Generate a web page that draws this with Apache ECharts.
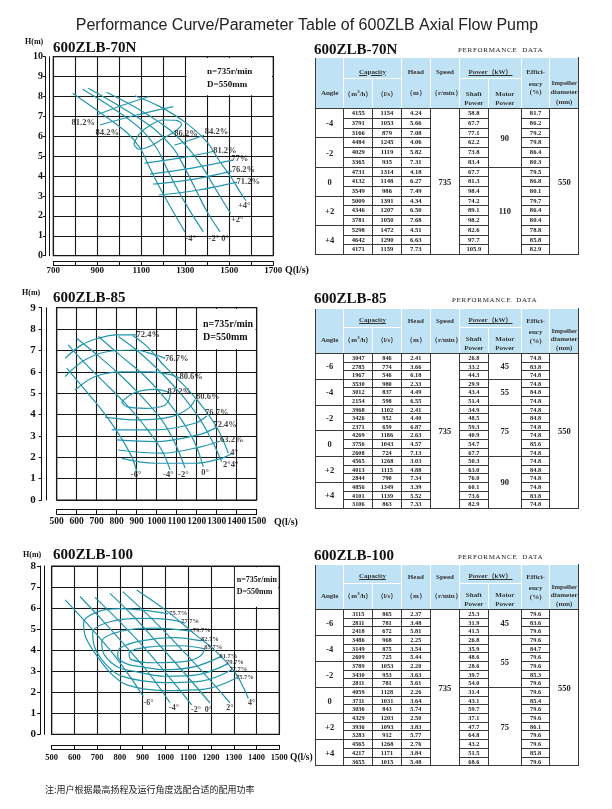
<!DOCTYPE html>
<html><head><meta charset="utf-8"><title>600ZLB Axial Flow Pump</title>
<script src="https://cdn.jsdelivr.net/npm/echarts@6.0.0/dist/echarts.min.js"></script>
<style>
html,body{margin:0;padding:0;background:#fff;}
#page{position:relative;width:612px;height:809px;overflow:hidden;}
#chart{position:absolute;left:0;top:0;width:612px;height:809px;}
.ttl{position:absolute;font-family:"Liberation Serif","Times New Roman",serif;font-weight:bold;color:#111;white-space:nowrap;font-size:15px;line-height:16px;}
.pd{position:absolute;font-family:"Liberation Serif","Times New Roman",serif;font-size:7px;line-height:8px;color:#222;letter-spacing:0.7px;white-space:nowrap;}
table.pt{position:absolute;border-collapse:collapse;table-layout:fixed;font-family:"Liberation Serif","Times New Roman",serif;font-weight:bold;color:#222;z-index:2;}
table.pt th{background:#bfe3f4;border:1px solid #fff;padding:0;font-size:7px;line-height:8.5px;font-weight:bold;color:#333;text-align:center;overflow:hidden;white-space:nowrap;}
table.pt tr.h1 th{vertical-align:bottom;padding-bottom:2px;}
table.pt th.nb{border-bottom-style:hidden;}
table.pt th.fl{border-left-color:#3a3a3a;}
table.pt th.lr{border-right-color:#3a3a3a;}
table.pt tr.h2 th{border-bottom-color:#3a3a3a;}
table.pt th.vt{vertical-align:top;padding-top:1px;}
table.pt th.vb{vertical-align:bottom;padding-bottom:1px;}
table.pt td{border:1px solid #3a3a3a;padding:0;text-align:center;white-space:nowrap;overflow:hidden;}
table.pt td.big{font-size:8.5px;}
#foot{position:absolute;left:45px;top:784px;font-family:"Noto Sans CJK SC",sans-serif;font-size:9px;line-height:12px;color:#222;white-space:nowrap;}
</style>
</head>
<body>
<div id="page">
  <div id="chart"></div>
  <div class="ttl" style="left:314px;top:41px;">600ZLB-70N</div>
  <div class="pd" style="left:458px;top:46px;">PERFORMANCE&nbsp; DATA</div>
  <table class="pt" id="t1"></table>
  <div class="ttl" style="left:314px;top:290px;">600ZLB-85</div>
  <div class="pd" style="left:452px;top:296px;">PERFORMANCE&nbsp; DATA</div>
  <table class="pt" id="t2"></table>
  <div class="ttl" style="left:314px;top:547px;">600ZLB-100</div>
  <div class="pd" style="left:458px;top:553px;">PERFORMANCE&nbsp; DATA</div>
  <table class="pt" id="t3"></table>
  <div id="foot">注:用户根据最高扬程及运行角度选配合适的配用功率</div>
</div>
<script>
// ================= DATA =================
// ---- Chart 1 : 600ZLB-70N  (Q l/s, H m) ----
const c1_xTicks = [700, 900, 1100, 1300, 1500, 1700];
const c1_m4 = [[788,8.16],[912,7.2],[1033,6.2],[1095,5.4],[1135,4.5],[1175,3.6],[1230,2.5],[1298,1.2]];
const c1_m2 = [[833,8.36],[973,7.4],[1094,6.4],[1170,5.4],[1215,4.4],[1261,3.4],[1321,2.25],[1382,1.2]];
const c1_0  = [[859,8.41],[1018,7.4],[1155,6.4],[1245,5.4],[1298,4.4],[1344,3.4],[1397,2.25],[1458,1.2]];
const c1_p2 = [[942,8.21],[1094,7.32],[1230,6.32],[1321,5.31],[1382,4.39],[1427,3.55],[1473,2.71],[1506,2.13]];
const c1_p4 = [[1071,8.04],[1185,7.49],[1306,6.65],[1397,5.73],[1458,4.72],[1511,3.89],[1548,3.22],[1576,2.76]];
const c1_e812L = [[897,7.07],[1018,7.57],[1132,7.99]];
const c1_e842L = [[912,6.57],[1079,7.07],[1245,7.49]];
const c1_e862  = [[1066,5.6],[1090,6.1],[1140,6.55],[1200,6.82],[1260,6.8],[1283,6.6],[1260,6.3],[1200,5.9],[1140,5.5],[1090,5.35],[1066,5.6]];
const c1_e842R = [[1250,5.55],[1320,5.8],[1385,6.05]];
const c1_e812R = [[1115,4.65],[1300,4.95],[1430,5.25]];
const c1_e77   = [[1140,4.1],[1330,4.4],[1515,4.8]];
const c1_e762  = [[1155,3.6],[1340,3.85],[1512,4.25]];
const c1_e712  = [[1180,3.05],[1360,3.3],[1535,3.7]];
const c1_effLabels = [[836,6.70,'81.2%'],[945,6.2,'84.2%'],[1303,6.15,'86.2%'],[1442,6.23,'84.2%'],[1480,5.26,'81.2%'],[1548,4.89,'77%'],[1564,4.30,'76.2%'],[1586,3.72,'71.2%']];
const c1_angLabels = [[1568,2.51,'+4°'],[1536,1.79,'+2°'],[1324,0.84,'-4°'],[1452,0.84,'-2° 0°']];

// ---- Chart 2 : 600ZLB-85 ----
const c2_xTicks = [500,600,700,800,900,1000,1100,1200,1300,1400,1500];
const c2_m6 = [[550,6.17],[642,5.15],[725,4.22],[808,3.12],[875,2.03],[900,1.33]];
const c2_m4 = [[558,7.26],[625,6.56],[725,5.62],[842,4.53],[942,3.44],[1025,2.34],[1067,1.41]];
const c2_m2 = [[600,7.57],[692,6.87],[808,5.93],[925,4.84],[1025,3.75],[1092,2.65],[1142,1.49]];
const c2_0  = [[708,7.65],[825,6.71],[942,5.78],[1042,4.76],[1125,3.74],[1192,2.65],[1233,1.56]];
const c2_p2 = [[808,7.65],[908,6.95],[1025,5.93],[1125,4.92],[1208,3.9],[1275,2.81],[1325,1.8]];
const c2_p4 = [[880,7.7],[950,7.2],[1042,6.24],[1158,5.15],[1242,4.21],[1308,3.28],[1358,2.19]];
const c2_e724U = [[542,6.63],[625,7.26],[708,7.57],[800,7.73],[900,7.73]];
const c2_e767U = [[542,5.78],[642,6.56],[758,6.95],[892,7.02],[992,6.79],[1042,6.63]];
const c2_e806U = [[592,5.15],[692,5.78],[825,6.0],[975,6.0],[1075,5.85],[1117,5.7]];
const c2_e822  = [[825,4.6],[892,5.03],[992,5.18],[1067,4.92],[1042,4.45],[942,4.29],[850,4.37],[825,4.6]];
const c2_e806L = [[742,3.87],[908,3.75],[1075,3.9],[1160,4.3],[1192,4.7]];
const c2_e767L = [[775,3.28],[992,3.28],[1192,3.59],[1250,3.93]];
const c2_e724L = [[800,2.81],[992,2.73],[1208,3.05],[1300,3.4]];
const c2_e632  = [[808,2.34],[1025,2.19],[1225,2.5],[1317,2.75]];
const c2_ebot  = [[825,1.95],[992,1.72],[1192,1.72],[1325,1.95],[1375,2.16]];
const c2_effLabels = [[958,7.73,'72.4%'],[1100,6.63,'76.7%'],[1172,5.78,'80.6%'],[1113,5.07,'82.2%'],[1255,4.84,'80.6%'],[1300,4.06,'76.7%'],[1342,3.51,'72.4%'],[1375,2.81,'63.2%']];
const c2_angLabels = [[1387,2.19,'4°'],[1370,1.64,'2°4°'],[1242,1.25,'0°'],[1133,1.17,'-2°'],[1058,1.17,'-4°'],[897,1.17,'-6°']];

// ---- Chart 3 : 600ZLB-100 ----
const c3_xTicks = [500,600,700,800,900,1000,1100,1200,1300,1400,1500];
const c3_m6 = [[559,6.39],[654,5.28],[756,4.01],[844,2.74],[903,1.79]];
const c3_m4 = [[624,6.55],[720,5.45],[820,4.25],[920,3.0],[1020,1.5]];
const c3_m2 = [[690,6.51],[790,5.45],[900,4.2],[1010,2.8],[1115,1.4]];
const c3_0  = [[756,6.7],[860,5.6],[960,4.4],[1080,2.95],[1195,1.5]];
const c3_p2 = [[812,6.78],[920,5.7],[1030,4.5],[1160,3.0],[1283,1.5]];
const c3_p4 = [[873,6.86],[1011,5.82],[1130,4.75],[1218,3.98],[1307,2.92],[1364,1.7]];
const c3_e757 = [[1012,5.72],[908,5.89],[804,5.97],[701,5.82],[640,5.3],[650,4.6],[700,3.7],[760,2.9],[830,2.35],[996,2.08],[1174,2.15],[1314,2.69]];
const c3_e777 = [[1085,5.28],[1026,5.44],[893,5.51],[760,5.36],[680,4.85],[690,4.1],[740,3.3],[810,2.75],[996,2.46],[1159,2.53],[1292,3.07]];
const c3_e797 = [[1115,4.9],[952,5.05],[804,4.9],[720,4.4],[730,3.8],[790,3.2],[860,3.0],[996,2.76],[1145,2.84],[1277,3.37]];
const c3_e827 = [[1159,4.44],[1041,4.6],[893,4.44],[800,4.1],[790,3.7],[830,3.35],[900,3.2],[996,3.07],[1130,3.22],[1240,3.68]];
const c3_e857 = [[1174,4.06],[1070,4.21],[922,4.14],[840,3.85],[850,3.55],[950,3.4],[1080,3.45],[1150,3.7],[1174,4.06]];
const c3_effLabels = [[1056,5.75,'75.7%'],[1108,5.36,'77.7%'],[1159,4.96,'79.7%'],[1195,4.52,'82.7%'],[1210,4.14,'85.7%'],[1276,3.69,'81.7%'],[1305,3.41,'79.7%'],[1320,3.09,'77.7%'],[1349,2.71,'75.7%']];
const c3_angLabels = [[925,1.47,'-6°'],[1037,1.24,'-4°'],[1134,1.16,'-2°'],[1188,1.16,'0°'],[1283,1.24,'2°'],[1378,1.47,'4°']];

// ---- Tables ----
const t1_angles = ['-4','-2','0','+2','+4'];
const t1_m3h   = ['4155','3791','3166','4484','4029','3365','4731','4132','3549','5009','4346','3781','5298','4642','4171'];
const t1_ls    = ['1154','1053','879','1245','1119','935','1314','1148','986','1391','1207','1050','1472','1290','1159'];
const t1_head  = ['4.24','5.66','7.08','4.06','5.82','7.31','4.18','6.27','7.49','4.34','6.50','7.68','4.51','6.63','7.73'];
const t1_shaft = ['58.8','67.7','77.1','62.2','73.8','83.4','67.7','81.3','98.4','74.2','89.1','98.2','82.6','97.7','105.9'];
const t1_eff   = ['81.7','86.2','79.2','79.8','86.4','80.3','79.5','86.8','80.1','79.7','86.4','80.4','78.8','85.8','82.9'];
const t1_motor = ['90','110'];
const t1_motorRows = [6, 9];

const t2_angles = ['-6','-4','-2','0','+2','+4'];
const t2_m3h   = ['3047','2785','1967','3530','3012','2154','3968','3426','2371','4269','3756','2608','4565','4013','2844','4856','4101','3106'];
const t2_ls    = ['846','774','546','980','837','598','1102','952','659','1186','1043','724','1268','1115','790','1349','1139','863'];
const t2_head  = ['2.41','3.66','6.18','2.33','4.49','6.55','2.41','4.40','6.87','2.63','4.57','7.13','3.03','4.88','7.34','3.39','5.52','7.33'];
const t2_shaft = ['26.8','33.2','44.3','29.9','43.4','51.4','34.9','48.5','59.3','40.9','54.7','67.7','50.3','63.0','76.0','60.1','73.6','82.9'];
const t2_eff   = ['74.8','83.8','74.8','74.8','84.8','74.8','74.8','84.8','74.8','74.8','85.6','74.8','74.8','84.8','74.8','74.8','83.8','74.8'];
const t2_motor = ['45','55','75','90'];
const t2_motorRows = [3, 3, 6, 6];

const t3_angles = ['-6','-4','-2','0','+2','+4'];
const t3_m3h   = ['3115','2811','2418','3486','3149','2609','3789','3430','2811','4059','3711','3036','4329','3936','3283','4565','4217','3655'];
const t3_ls    = ['865','781','672','968','875','725','1053','953','781','1128','1031','843','1203','1093','912','1268','1171','1015'];
const t3_head  = ['2.37','3.48','5.81','2.25','3.54','5.44','2.20','3.63','5.61','2.26','3.64','5.74','2.50','3.83','5.77','2.76','3.84','5.48'];
const t3_shaft = ['25.3','31.9','41.5','26.8','35.9','48.6','28.6','39.7','54.0','31.4','43.1','59.7','37.1','47.7','64.8','43.2','51.5','68.6'];
const t3_eff   = ['79.6','83.6','79.6','79.6','84.7','79.6','79.6','85.3','79.6','79.6','85.4','79.6','79.6','86.1','79.6','79.6','85.8','79.6'];
const t3_motor = ['45','55','75'];
const t3_motorRows = [3, 6, 9];

const speed = '735';
const impeller = '550';

// ================= CHART =================
const SERIF = '"Liberation Serif","Times New Roman",serif';
const CURVE = '#2196ae';
const GRIDC = '#161616';

function axesFor(g, c){
  const xs = [], ys = [];
  xs.push({gridIndex:g, type:'value', min:c.xMin, max:c.xMax, interval:100,
    axisLine:{show:false}, axisTick:{show:false}, axisLabel:{show:false},
    splitLine:{show:true, lineStyle:{color:GRIDC, width:1.1}}});
  xs.push({gridIndex:g, type:'value', min:c.xMin, max:c.xMax, interval:100, position:'bottom', offset:c.xo[0],
    axisLine:{show:true, onZero:false, lineStyle:{color:'#111', width:1}},
    axisTick:{show:true, inside:false, length:c.xo[1]-c.xo[0], lineStyle:{color:'#111', width:1}},
    axisLabel:{show:false}, splitLine:{show:false}});
  xs.push({gridIndex:g, type:'value', min:c.xMin, max:c.xMax, interval:100, position:'bottom', offset:c.xo[1],
    axisLine:{show:true, onZero:false, lineStyle:{color:'#111', width:1}},
    axisTick:{show:false},
    axisLabel:{show:true, margin:c.xMargin, hideOverlap:false, color:'#111', fontFamily:SERIF, fontWeight:'bold', fontSize:c.xFs,
      formatter:(v)=> c.xTicks.indexOf(Math.round(v))>=0 ? String(Math.round(v)) : ''},
    splitLine:{show:false}});
  ys.push({gridIndex:g, type:'value', min:0, max:c.yMax, interval:1,
    axisLine:{show:false}, axisTick:{show:false}, axisLabel:{show:false},
    splitLine:{show:true, lineStyle:{color:GRIDC, width:1.2}}});
  ys.push({gridIndex:g, type:'value', min:0, max:c.yMax, interval:1, position:'left', offset:c.yo[0],
    axisLine:{show:true, onZero:false, lineStyle:{color:'#111', width:1}},
    axisTick:{show:false}, axisLabel:{show:false}, splitLine:{show:false}});
  ys.push({gridIndex:g, type:'value', min:0, max:c.yMax, interval:1, position:'left', offset:c.yo[1],
    axisLine:{show:true, onZero:false, lineStyle:{color:'#111', width:1}},
    axisTick:{show:true, inside:false, length:c.yTick, lineStyle:{color:'#111', width:1}},
    axisLabel:{show:true, margin:c.yMargin, hideOverlap:false, color:'#111', fontFamily:SERIF, fontWeight:'bold', fontSize:c.yFs},
    splitLine:{show:false}});
  return {xs, ys};
}

function curve(g, data){
  return {type:'line', xAxisIndex:3*g, yAxisIndex:3*g, data:data, showSymbol:false, smooth:0.35,
    silent:true, z:3, lineStyle:{color:CURVE, width:1.2}};
}
function labels(g, arr, fs){
  return {type:'scatter', xAxisIndex:3*g, yAxisIndex:3*g, symbolSize:1, silent:true, z:6,
    itemStyle:{color:'rgba(0,0,0,0)'},
    data: arr.map(d=>({value:[d[0],d[1]], name:d[2]})),
    label:{show:true, position:'inside', formatter:'{b}', color:'#111', fontFamily:SERIF, fontWeight:'bold', fontSize:fs}};
}
function box(g, x0, y0, x1, y1, off, fs, lh){
  return {type:'line', xAxisIndex:3*g, yAxisIndex:3*g, data:[], silent:true, z:4,
    markArea:{silent:true, itemStyle:{color:'#ffffff', opacity:1, borderWidth:0},
      label:{show:true, position:'insideTopLeft', distance:0, offset:off, align:'left', verticalAlign:'top',
        formatter:'n=735r/min\nD=550mm', color:'#111', fontFamily:SERIF, fontWeight:'bold', fontSize:fs, lineHeight:lh},
      data:[[{xAxis:x0, yAxis:y0},{xAxis:x1, yAxis:y1}]]}};
}

const A1 = axesFor(0, {xMin:700, xMax:1700, yMax:10, xTicks:c1_xTicks, xo:[6,9.3], yo:[4,8.3], xMargin:1, xFs:9, yFs:10, yMargin:2, yTick:2});
const A2 = axesFor(1, {xMin:500, xMax:1500, yMax:9,  xTicks:c2_xTicks, xo:[9,14], yo:[10,15], xMargin:3, xFs:9.5, yFs:11, yMargin:6, yTick:3});
const A3 = axesFor(2, {xMin:500, xMax:1500, yMax:8,  xTicks:c3_xTicks, xo:[10.7,14.7], yo:[7.4,11.7], xMargin:4, xFs:8.5, yFs:11, yMargin:4, yTick:3});

const gridBase = {show:true, borderColor:'#111', borderWidth:1.2, backgroundColor:'rgba(0,0,0,0)', containLabel:false, outerBoundsMode:'none'};

const series = [
  box(0, 1305, 8.06, 1694, 9.94, [20.6, 7.6], 9, 13),
  curve(0,c1_m4), curve(0,c1_m2), curve(0,c1_0), curve(0,c1_p2), curve(0,c1_p4),
  curve(0,c1_e812L), curve(0,c1_e842L), curve(0,c1_e862), curve(0,c1_e842R),
  curve(0,c1_e812R), curve(0,c1_e77), curve(0,c1_e762), curve(0,c1_e712),
  labels(0, c1_effLabels, 8.5), labels(0, c1_angLabels, 8.5),

  box(1, 1206, 7.06, 1494, 8.94, [5.1, 8.5], 10, 13),
  curve(1,c2_m6), curve(1,c2_m4), curve(1,c2_m2), curve(1,c2_0), curve(1,c2_p2), curve(1,c2_p4),
  curve(1,c2_e724U), curve(1,c2_e767U), curve(1,c2_e806U), curve(1,c2_e822),
  curve(1,c2_e806L), curve(1,c2_e767L), curve(1,c2_e724L), curve(1,c2_e632), curve(1,c2_ebot),
  labels(1, c2_effLabels, 8.5), labels(1, c2_angLabels, 8.5),

  box(2, 1305, 6.06, 1495, 7.94, [1.8, 6.7], 8, 12),
  curve(2,c3_m6), curve(2,c3_m4), curve(2,c3_m2), curve(2,c3_0), curve(2,c3_p2), curve(2,c3_p4),
  curve(2,c3_e757), curve(2,c3_e777), curve(2,c3_e797), curve(2,c3_e827), curve(2,c3_e857),
  labels(2, c3_effLabels, 6.5), labels(2, c3_angLabels, 8)
];

function txt(x, y, text, font, align){
  return {type:'text', x:x, y:y, silent:true, z:10,
    style:{text:text, font:font, fill:'#111', align:align||'left', verticalAlign:'middle'}};
}

const option = {
  animation:false,
  backgroundColor:'#ffffff',
  grid:[
    Object.assign({left:53.3, top:56.7, width:220, height:199}, gridBase),
    Object.assign({left:56.7, top:307.7, width:200, height:192.3}, gridBase),
    Object.assign({left:51.7, top:566, width:227.6, height:168.3}, gridBase)
  ],
  xAxis: A1.xs.concat(A2.xs, A3.xs),
  yAxis: A1.ys.concat(A2.ys, A3.ys),
  series: series,
  graphic: [
    {type:'text', x:307, y:26, silent:true, style:{text:'Performance Curve/Parameter Table of 600ZLB Axial Flow Pump', font:'16px "Liberation Sans", Arial, sans-serif', fill:'#222', align:'center', verticalAlign:'middle'}},
    txt(25, 42, 'H(m)', 'bold 8px "Liberation Serif", serif'),
    txt(53, 48.5, '600ZLB-70N', 'bold 15px "Liberation Serif", serif'),
    txt(285, 270, 'Q(l/s)', 'bold 10px "Liberation Serif", serif'),
    txt(22, 293, 'H(m)', 'bold 8px "Liberation Serif", serif'),
    txt(53, 298.5, '600ZLB-85', 'bold 15px "Liberation Serif", serif'),
    txt(274, 522, 'Q(l/s)', 'bold 10px "Liberation Serif", serif'),
    txt(23, 555, 'H(m)', 'bold 8px "Liberation Serif", serif'),
    txt(53, 555, '600ZLB-100', 'bold 15px "Liberation Serif", serif'),
    txt(290, 758, 'Q(l/s)', 'bold 9.5px "Liberation Serif", serif')
  ]
};

const chart = echarts.init(document.getElementById('chart'), null, {renderer:'canvas', width:612, height:809});
chart.setOption(option);

// ================= TABLES =================
const COLW = [28.3, 29, 28.4, 29.3, 29, 28.7, 33.3, 28.3, 29];
function buildTable(id, o){
  const el = document.getElementById(id);
  el.style.left = o.left + 'px';
  el.style.top = o.top + 'px';
  el.style.width = COLW.reduce((a,b)=>a+b,0) + 'px';
  let h = '<colgroup>' + COLW.map(w=>'<col style="width:'+w+'px">').join('') + '</colgroup>';
  h += '<tr class="h1" style="height:'+o.h1+'px">' +
       '<th class="nb fl"></th>' +
       '<th colspan="2"><u>Capacity</u></th>' +
       '<th class="nb">Head</th>' +
       '<th class="nb">Speed</th>' +
       '<th colspan="2"><u>Power（kW）</u></th>' +
       '<th class="nb">Effici-</th>' +
       '<th class="nb lr"></th></tr>';
  h += '<tr class="h2" style="height:'+o.h2+'px">' +
       '<th class="fl">Angle</th>' +
       '<th>（m<sup style="font-size:5px;line-height:0">3</sup>/h）</th>' +
       '<th>（l/s）</th>' +
       '<th>（m）</th>' +
       '<th>（r/min）</th>' +
       '<th class="vb">Shaft<br>Power</th>' +
       '<th class="vb">Motor<br>Power</th>' +
       '<th class="vt">ency<br>(%)</th>' +
       '<th class="lr vb" style="line-height:'+o.impLH+'px">Impeller<br>diameter<br>(mm)</th></tr>';
  const n = o.m3h.length;
  const mStart = {};
  let acc = 0;
  o.motor.forEach((m,i)=>{ mStart[acc] = [m, o.motorRows[i]]; acc += o.motorRows[i]; });
  const cs = 'style="font-size:'+o.fs+'px;line-height:'+(o.rowH-1)+'px"';
  for(let r=0;r<n;r++){
    h += '<tr style="height:'+o.rowH+'px">';
    if(r%3===0) h += '<td rowspan="3" class="big">'+o.angles[r/3]+'</td>';
    h += '<td '+cs+'>'+o.m3h[r]+'</td><td '+cs+'>'+o.ls[r]+'</td><td '+cs+'>'+o.head[r]+'</td>';
    if(r===0) h += '<td rowspan="'+n+'" class="big">'+speed+'</td>';
    h += '<td '+cs+'>'+o.shaft[r]+'</td>';
    if(mStart[r]) h += '<td rowspan="'+mStart[r][1]+'" class="big">'+mStart[r][0]+'</td>';
    h += '<td '+cs+'>'+o.eff[r]+'</td>';
    if(r===0) h += '<td rowspan="'+n+'" class="big">'+impeller+'</td>';
    h += '</tr>';
  }
  el.innerHTML = h;
}
buildTable('t1', {left:315, top:56.7, h1:21.7, h2:29.3, rowH:9.7, fs:6.6, impLH:9.5,
  angles:t1_angles, m3h:t1_m3h, ls:t1_ls, head:t1_head, shaft:t1_shaft, eff:t1_eff, motor:t1_motor, motorRows:t1_motorRows});
buildTable('t2', {left:315, top:307.7, h1:19, h2:26, rowH:8.6, fs:6.3, impLH:8.3,
  angles:t2_angles, m3h:t2_m3h, ls:t2_ls, head:t2_head, shaft:t2_shaft, eff:t2_eff, motor:t2_motor, motorRows:t2_motorRows});
buildTable('t3', {left:315, top:564, h1:18.7, h2:26.3, rowH:8.67, fs:6.3, impLH:8.3,
  angles:t3_angles, m3h:t3_m3h, ls:t3_ls, head:t3_head, shaft:t3_shaft, eff:t3_eff, motor:t3_motor, motorRows:t3_motorRows});
</script>
</body></html>
